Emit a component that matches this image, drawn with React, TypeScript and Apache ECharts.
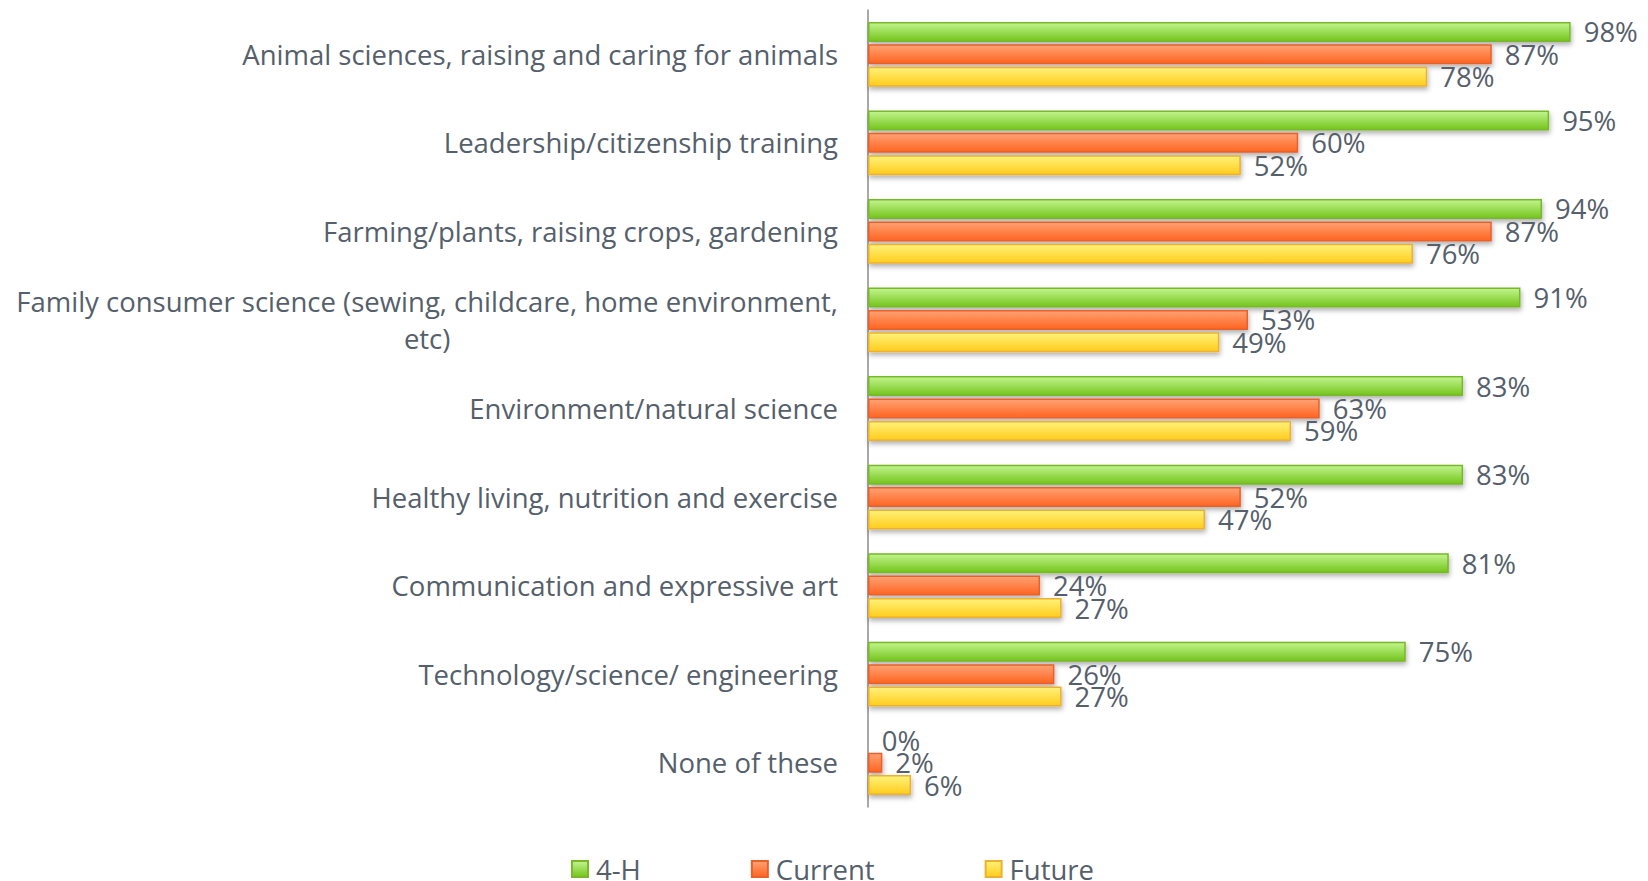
import React, { useEffect, useRef } from "react";
import * as echarts from "echarts";

const categories = [
  "Animal sciences, raising and caring for animals",
  "Leadership/citizenship training",
  "Farming/plants, raising crops, gardening",
  "Family consumer science (sewing, childcare, home environment,\netc)",
  "Environment/natural science",
  "Healthy living, nutrition and exercise",
  "Communication and expressive art",
  "Technology/science/ engineering",
  "None of these",
];
const fourH = [98, 95, 94, 91, 83, 83, 81, 75, 0];
const current = [87, 60, 87, 53, 63, 52, 24, 26, 2];
const future = [78, 52, 76, 49, 59, 47, 27, 27, 6];

const FONT = "'Open Sans', sans-serif";
const TEXT = "#55606b";
const FS = 27.5;

function grad(top: string, bottom: string) {
  return new echarts.graphic.LinearGradient(0, 0, 0, 1, [
    { offset: 0, color: top },
    { offset: 1, color: bottom },
  ]);
}

function mkSeries(name: string, data: number[], top: string, bottom: string, border: string) {
  return {
    name,
    type: "bar",
    data,
    barWidth: 20,
    barGap: "12%",
    itemStyle: {
      color: grad(top, bottom),
      borderColor: border,
      borderWidth: 1.5,
      shadowBlur: 5,
      shadowOffsetY: 3,
      shadowOffsetX: 1,
      shadowColor: "rgba(0,0,0,0.3)",
    },
    label: {
      show: true,
      position: "right",
      distance: 13,
      formatter: "{c}%",
      fontFamily: FONT,
      fontSize: FS,
      color: TEXT,
    },
  };
}

export default function App() {
  const ref = useRef<HTMLDivElement>(null);
  useEffect(() => {
    const chart = echarts.init(ref.current!, null, { renderer: "svg" });
    chart.setOption({
      animation: false,
      grid: { left: 868, top: 10, width: 717, height: 797 },
      xAxis: {
        type: "value",
        min: 0,
        max: 100,
        show: false,
      },
      yAxis: {
        type: "category",
        inverse: true,
        data: categories,
        axisLine: { show: true, lineStyle: { color: "#8c8c8c", width: 1.5 } },
        axisTick: { show: false },
        axisLabel: {
          margin: 30,
          fontFamily: FONT,
          fontSize: FS,
          color: TEXT,
          lineHeight: 37,
          formatter: (v: string) => {
            const parts = v.split("\n");
            if (parts.length === 1) return v;
            return "{a|" + parts[0] + "}\n{c|" + parts[1] + "}";
          },
          rich: {
            a: { fontFamily: FONT, fontSize: FS, color: TEXT, lineHeight: 37 },
            c: { fontFamily: FONT, fontSize: FS, color: TEXT, lineHeight: 37, align: "center" },
          },
        },
      },
      legend: {
        left: 566,
        top: 850,
        icon: "rect",
        itemWidth: 16,
        itemHeight: 16,
        itemGap: 110,
        textStyle: { fontFamily: FONT, fontSize: FS, color: TEXT, padding: [0, 0, 0, 3] },
        data: ["4-H", "Current", "Future"],
      },
      series: [
        mkSeries("4-H", fourH, "#c2f58e", "#74c41c", "#78b82a"),
        mkSeries("Current", current, "#ffa274", "#ff6420", "#e8602a"),
        mkSeries("Future", future, "#fff27a", "#ffcc1c", "#eeb030"),
      ],
    });
    return () => chart.dispose();
  }, []);
  return (
    <div
      ref={ref}
      style={{ position: "fixed", left: 0, top: 0, width: 1648, height: 881, background: "#fff" }}
    />
  );
}
